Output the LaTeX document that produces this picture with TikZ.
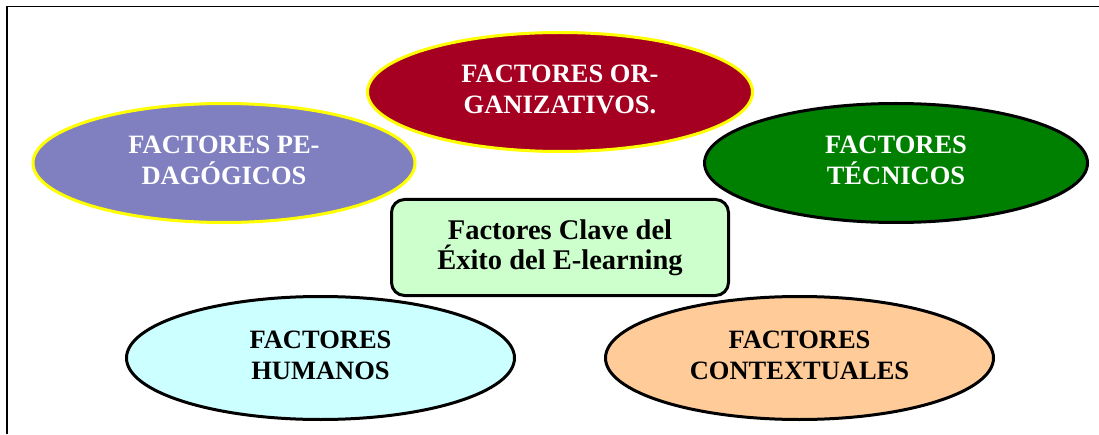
\documentclass[tikz,border=0pt]{standalone}
\usepackage{fontspec}
\setmainfont{Liberation Serif}
\usetikzlibrary{shapes.geometric}
\definecolor{orgred}{HTML}{A50021}
\definecolor{pedblue}{HTML}{8080C0}
\definecolor{tecgreen}{HTML}{008000}
\definecolor{humcyan}{HTML}{CCFFFF}
\definecolor{conpeach}{HTML}{FFCC99}
\definecolor{cenmint}{HTML}{CCFFCC}
\definecolor{ylw}{HTML}{FFFF00}
\newcommand{\lift}{\rule[-6pt]{0pt}{6pt}}
\tikzset{
  oval/.style={ellipse, line width=3pt, inner sep=0pt, align=center,
    font=\fontsize{26.5}{30.5}\selectfont\bfseries},
  centerbox/.style={rectangle, rounded corners=13pt, line width=3pt, draw=black, fill=cenmint,
    minimum width=337pt, minimum height=96pt, align=center, inner sep=0pt,
    font=\fontsize{28.5}{30}\selectfont\bfseries},
}
\begin{document}
\begin{tikzpicture}[x=1pt,y=1pt]
\useasboundingbox (0,0) rectangle (1099,434);
\coordinate (fr1) at (7,0);
\coordinate (fr2) at (7,427.5);
\coordinate (fr3) at (1099,427.5);
\draw[line width=1.8pt] (fr1) -- (fr2) -- (fr3);
\node[oval, draw=ylw, fill=orgred, text=white, minimum width=385pt, minimum height=119pt] (org) at (560,342) {FACTORES OR-\\GANIZATIVOS.\lift};
\node[oval, draw=ylw, fill=pedblue, text=white, minimum width=382pt, minimum height=119pt] (ped) at (224,271) {FACTORES PE-\\DAGÓGICOS\lift};
\node[oval, draw=black, fill=tecgreen, text=white, minimum width=383pt, minimum height=119pt] (tec) at (896,271) {FACTORES\\TÉCNICOS\lift};
\node[centerbox] (cen) at (560,186.5) {Factores Clave del\\Éxito del E-learning};
\node[oval, draw=black, fill=humcyan, text=black, minimum width=388pt, minimum height=123pt] (hum) at (320.5,76) {FACTORES\\HUMANOS\lift};
\node[oval, draw=black, fill=conpeach, text=black, minimum width=388pt, minimum height=123pt] (con) at (799.5,76) {FACTORES\\CONTEXTUALES\lift};
\end{tikzpicture}
\end{document}
